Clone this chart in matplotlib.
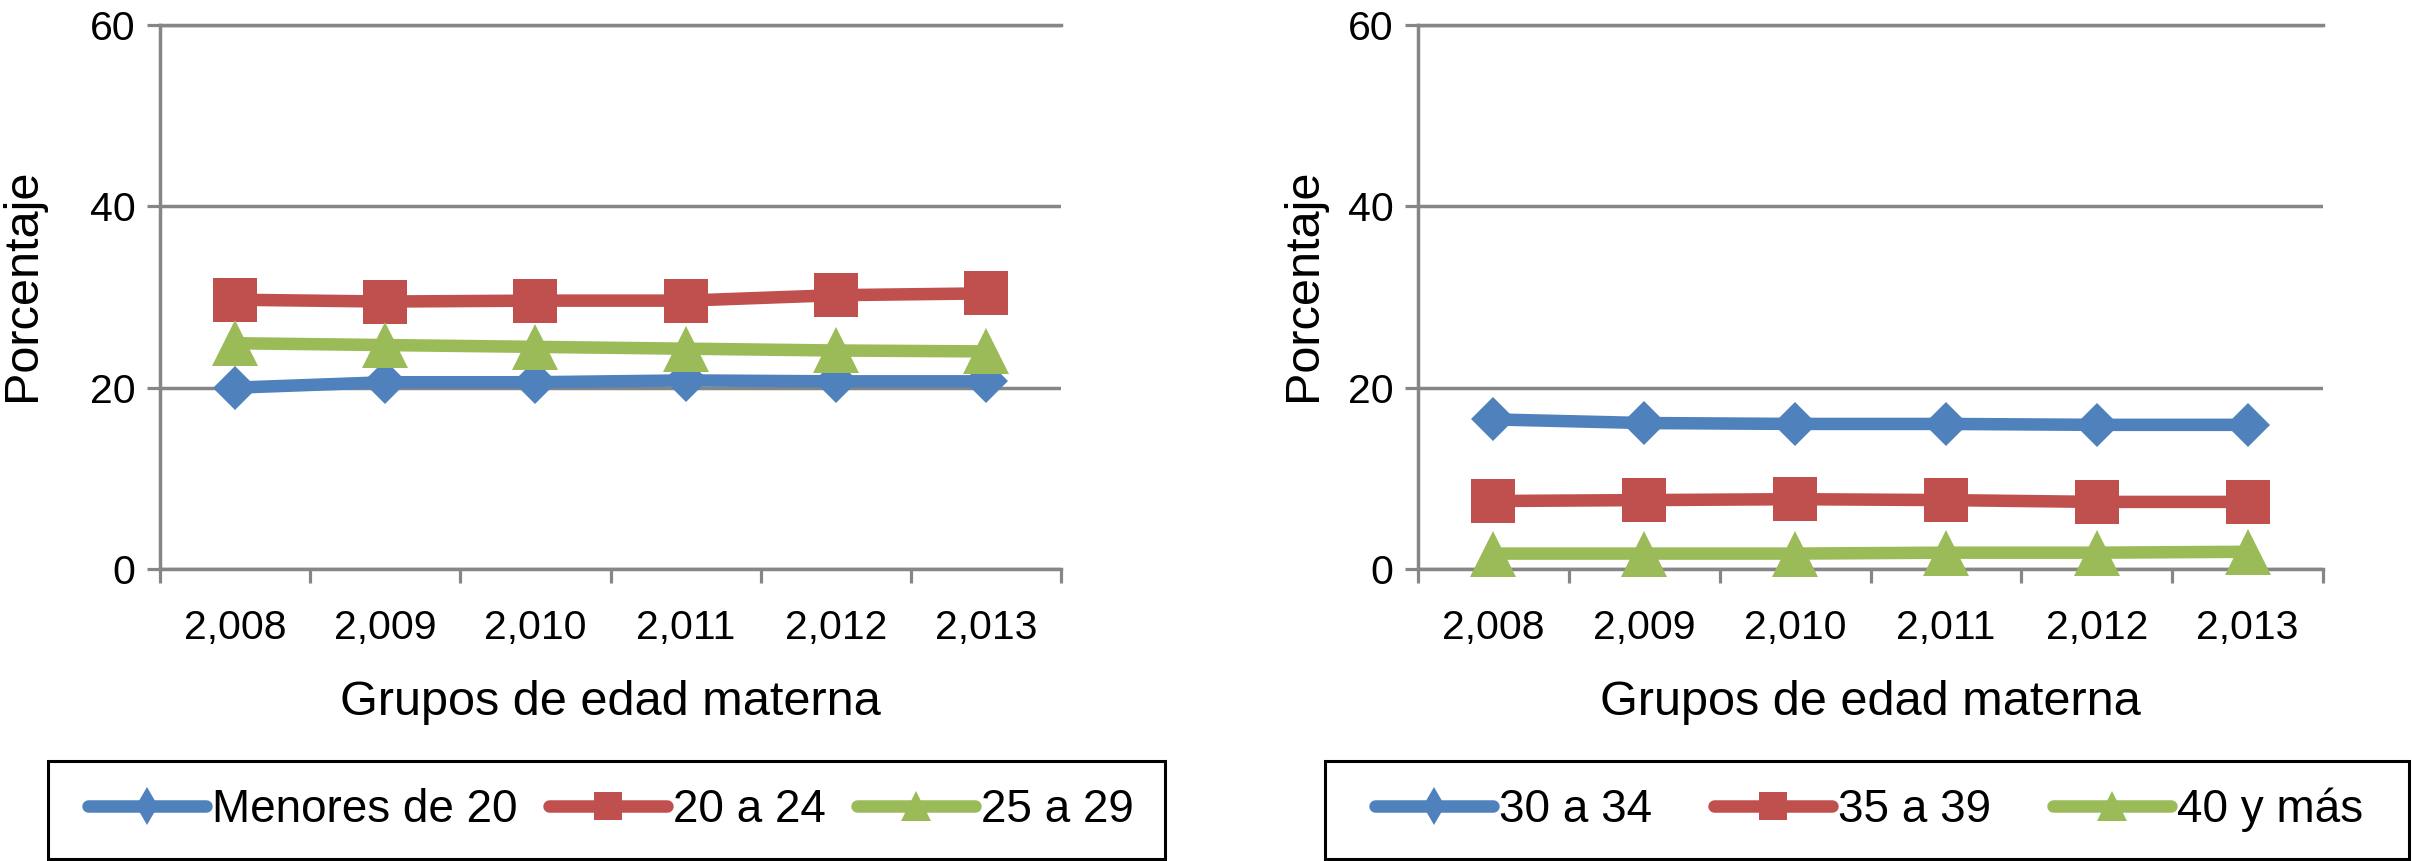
import matplotlib
matplotlib.use('Agg')
import matplotlib.pyplot as plt
from matplotlib.patches import Rectangle
import numpy as np

plt.rcParams['font.family'] = ['Liberation Sans', 'DejaVu Sans']

# data
years = ['2,008', '2,009', '2,010', '2,011', '2,012', '2,013']

left_labels = ['Menores de 20', '20 a 24', '25 a 29']
menores_20 = [20.0, 20.6, 20.6, 20.8, 20.7, 20.7]
de_20_24 = [29.7, 29.5, 29.6, 29.6, 30.2, 30.4]
de_25_29 = [24.9, 24.7, 24.5, 24.3, 24.1, 24.0]

right_labels = ['30 a 34', '35 a 39', '40 y más']
de_30_34 = [16.5, 16.1, 16.0, 16.0, 15.9, 15.9]
de_35_39 = [7.5, 7.6, 7.7, 7.6, 7.4, 7.4]
de_40_mas = [1.7, 1.7, 1.7, 1.8, 1.8, 1.9]

colors = ['#4F81BD', '#C0504D', '#9BBB59']
markers = ['D', 's', '^']
msizes = [22.5, 32, 33]
grey = '#868686'

W, H = 2412, 861
fig = plt.figure(figsize=(W / 100, H / 100), dpi=100)


def draw_panel(ax, series, labels, ylab_x):
    x = np.arange(len(years))
    for vals, lab, c, m, ms in zip(series, labels, colors, markers, msizes):
        ax.plot(x, vals, color=c, lw=9, marker=m, ms=ms, mew=0, label=lab,
                clip_on=False, zorder=3, solid_capstyle='round')
    ax.set_xlim(-0.5, 5.5)
    ax.set_ylim(0, 60)
    ax.set_yticks([0, 20, 40, 60])
    ax.set_xticks(x)
    ax.set_xticklabels(years)
    ax.set_xticks(np.arange(-0.5, 6, 1), minor=True)
    ax.tick_params(axis='x', which='major', length=0, pad=29, labelsize=29.5)
    ax.tick_params(axis='x', which='minor', length=10, width=2.3, color=grey)
    ax.tick_params(axis='y', length=9.5, width=2.3, color=grey, pad=8, labelsize=29.5)
    ax.grid(axis='y', color=grey, lw=2.5)
    ax.set_axisbelow(True)
    ax.spines['right'].set_visible(False)
    for s in ['left', 'bottom', 'top']:
        ax.spines[s].set_color(grey)
        ax.spines[s].set_linewidth(2.5)
    ax.set_ylabel('Porcentaje', fontsize=35)
    ax.yaxis.set_label_coords(ylab_x, 0.522)
    ax.set_xlabel('Grupos de edad materna', fontsize=35)
    ax.xaxis.set_label_coords(0.5, -0.204)


def draw_legend(ax, labels, inner, frame):
    handles, _ = ax.get_legend_handles_labels()
    x0, x1 = inner
    leg = fig.legend(handles, labels, loc='center',
                     bbox_to_anchor=(x0 / W, 1 - 859 / H, (x1 - x0) / W, 98 / H),
                     bbox_transform=fig.transFigure, mode='expand', ncol=3,
                     frameon=False, fontsize=33, handlelength=2.58, handletextpad=0.13,
                     borderpad=0, borderaxespad=0, markerscale=0.65, columnspacing=0.5)
    # legend diamond is drawn narrower than the one in the plot
    leg.legend_handles[0].set_marker('d')
    leg.legend_handles[0].set_markersize(19)
    f0, f1 = frame
    fig.add_artist(Rectangle((f0 / W, 1 - 859 / H), (f1 - f0) / W, 98 / H,
                             transform=fig.transFigure, fill=False,
                             edgecolor='black', lw=2.2))


ax1 = fig.add_axes([160 / W, 1 - 569 / H, 901 / W, 544 / H])
draw_panel(ax1, [menores_20, de_20_24, de_25_29], left_labels, -0.1276)
draw_legend(ax1, left_labels, (88, 1134), (48, 1165))

ax2 = fig.add_axes([1418 / W, 1 - 569 / H, 905 / W, 544 / H])
draw_panel(ax2, [de_30_34, de_35_39, de_40_mas], right_labels, -0.1017)
draw_legend(ax2, right_labels, (1375, 2363), (1325, 2409))

fig.savefig('out.png', dpi=100)
